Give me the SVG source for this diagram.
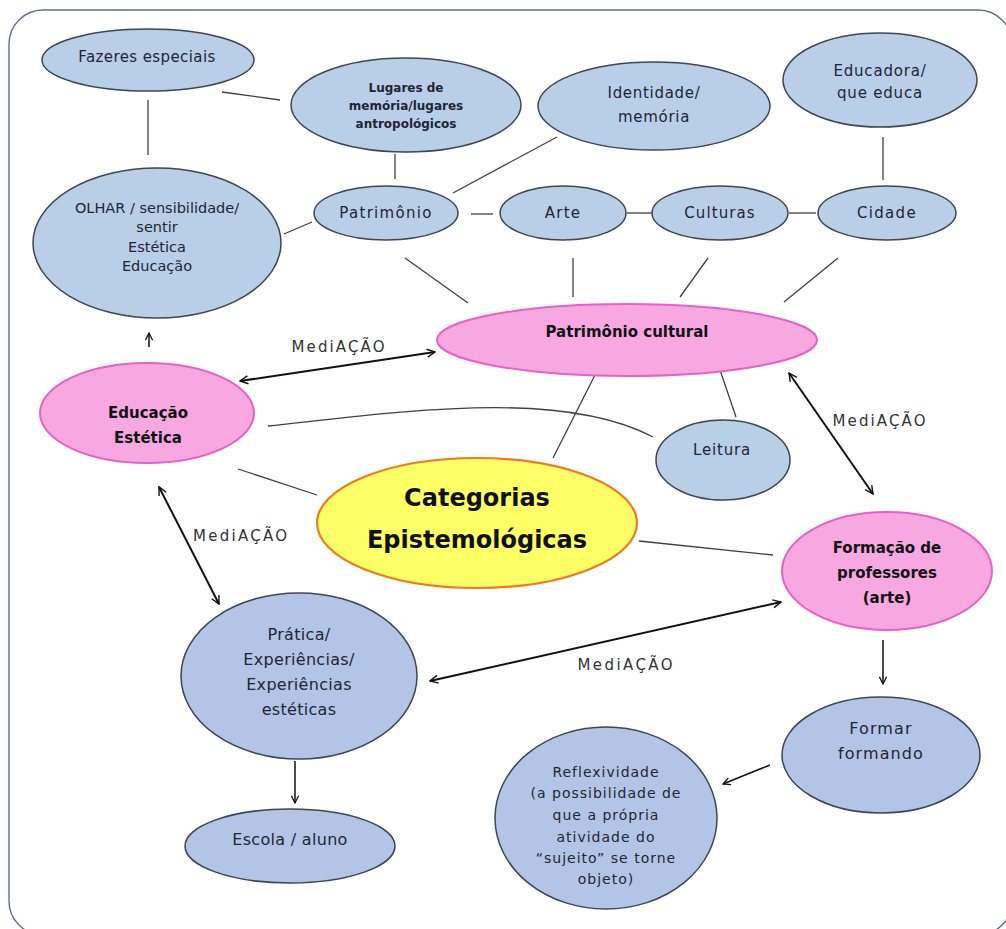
<svg xmlns="http://www.w3.org/2000/svg" width="1006" height="929" viewBox="0 0 1006 929">
<style>
.bg{fill:#ffffff}
.frame{fill:none;stroke:#5b7090;stroke-width:1.4}
.blue{fill:#b9cfe8;stroke:#3c4654;stroke-width:1.5}
.blue2{fill:#b3c5e6;stroke:#3c4654;stroke-width:1.5}
.pink{fill:#f8a8e0;stroke:#e462c4;stroke-width:2}
.yellow{fill:#ffff66;stroke:#f07a1e;stroke-width:2.2}
text{font-family:"DejaVu Sans","Liberation Sans",sans-serif;fill:#1e2533;text-anchor:middle}
.b{font-weight:bold;fill:#111}
.lab{fill:#333;font-size:15px}
.ln{fill:none;stroke:#404040;stroke-width:1.3}
.ar{fill:none;stroke:#111;stroke-width:2}
.ar1{fill:none;stroke:#111;stroke-width:1.5}
</style>
<defs>
<marker id="ah" viewBox="0 0 10 10" refX="9" refY="5" markerWidth="5" markerHeight="5" orient="auto-start-reverse" markerUnits="strokeWidth">
<path d="M1,1 L9,5 L1,9" fill="none" stroke="#111" stroke-width="1.4"/>
</marker>
<marker id="ah1" viewBox="0 0 10 10" refX="9" refY="5" markerWidth="6" markerHeight="6" orient="auto-start-reverse" markerUnits="strokeWidth">
<path d="M1,1 L9,5 L1,9" fill="none" stroke="#111" stroke-width="1.4"/>
</marker>
</defs>
<rect class="bg" x="0" y="0" width="1006" height="929"/>
<rect class="frame" x="9" y="10" width="1003" height="925" rx="34"/>

<g id="connectors">
<line class="ln" x1="148" y1="100" x2="148" y2="155"/>
<line class="ln" x1="222" y1="92" x2="280" y2="100"/>
<line class="ln" x1="395" y1="154" x2="395" y2="179"/>
<line class="ln" x1="557" y1="137" x2="453" y2="193"/>
<line class="ln" x1="471" y1="214" x2="493" y2="214"/>
<line class="ln" x1="627" y1="213" x2="652" y2="213"/>
<line class="ln" x1="789" y1="213" x2="816" y2="213"/>
<line class="ln" x1="883" y1="137" x2="883" y2="180"/>
<line class="ln" x1="284" y1="234" x2="312" y2="222"/>
<line class="ln" x1="405" y1="258" x2="468" y2="303"/>
<line class="ln" x1="573" y1="258" x2="573" y2="297"/>
<line class="ln" x1="708" y1="258" x2="680" y2="297"/>
<line class="ln" x1="838" y1="258" x2="784" y2="302"/>
<path class="ln" d="M268,426 C400,412 560,388 653,437"/>
<line class="ln" x1="597" y1="371" x2="553" y2="458"/>
<line class="ln" x1="720" y1="370" x2="736" y2="417"/>
<line class="ln" x1="238" y1="469" x2="317" y2="495"/>
<line class="ln" x1="639" y1="541" x2="773" y2="555"/>
<line class="ar1" x1="149" y1="347" x2="149" y2="333" marker-end="url(#ah1)"/>
<line class="ar" x1="240" y1="381" x2="435" y2="352" marker-start="url(#ah)" marker-end="url(#ah)"/>
<line class="ar" x1="789" y1="373" x2="873" y2="494" marker-start="url(#ah)" marker-end="url(#ah)"/>
<line class="ar" x1="159" y1="487" x2="219" y2="604" marker-start="url(#ah)" marker-end="url(#ah)"/>
<line class="ar" x1="430" y1="681" x2="781" y2="602" marker-start="url(#ah)" marker-end="url(#ah)"/>
<line class="ar1" x1="883" y1="640" x2="883" y2="684" marker-end="url(#ah1)"/>
<line class="ar1" x1="770" y1="765" x2="723" y2="784" marker-end="url(#ah1)"/>
<line class="ar1" x1="295" y1="761" x2="295" y2="803" marker-end="url(#ah1)"/>
<text class="lab" x="338" y="352" textLength="93" lengthAdjust="spacing">MediAÇÃO</text>
<text class="lab" x="879" y="426" textLength="93" lengthAdjust="spacing">MediAÇÃO</text>
<text class="lab" x="240" y="541" textLength="94" lengthAdjust="spacing">MediAÇÃO</text>
<text class="lab" x="625" y="670" textLength="95" lengthAdjust="spacing">MediAÇÃO</text>
</g>

<g id="fazeres">
<ellipse class="blue" cx="148" cy="60" rx="106" ry="31"/>
<text x="147" y="62" font-size="15" letter-spacing="0.4">Fazeres especiais</text>
</g>
<g id="lugares">
<ellipse class="blue" cx="406" cy="105" rx="115" ry="47"/>
<text font-size="12" font-weight="bold" fill="#222"><tspan x="406" y="92">Lugares de</tspan><tspan x="406" y="110">memória/lugares</tspan><tspan x="406" y="128">antropológicos</tspan></text>
</g>
<g id="identidade">
<ellipse class="blue" cx="654" cy="106" rx="116" ry="44"/>
<text font-size="15" letter-spacing="0.7"><tspan x="654" y="98">Identidade/</tspan><tspan x="654" y="122">memória</tspan></text>
</g>
<g id="educadora">
<ellipse class="blue" cx="880" cy="80" rx="97" ry="47"/>
<text font-size="15" letter-spacing="0.8"><tspan x="880" y="76">Educadora/</tspan><tspan x="880" y="98">que educa</tspan></text>
</g>
<g id="olhar">
<ellipse class="blue" cx="157" cy="243" rx="124" ry="75"/>
<text font-size="14.5"><tspan x="157" y="213">OLHAR / sensibilidade/</tspan><tspan x="157" y="232">sentir</tspan><tspan x="157" y="252">Estética</tspan><tspan x="157" y="271">Educação</tspan></text>
</g>
<g id="patrimonio">
<ellipse class="blue" cx="386" cy="213" rx="72" ry="27"/>
<text x="386" y="218" font-size="15" letter-spacing="1.3">Patrimônio</text>
</g>
<g id="arte">
<ellipse class="blue" cx="563" cy="213" rx="63" ry="27"/>
<text x="563" y="218" font-size="15" letter-spacing="1.3">Arte</text>
</g>
<g id="culturas">
<ellipse class="blue" cx="720" cy="213" rx="68" ry="27"/>
<text x="720" y="218" font-size="15" letter-spacing="1.1">Culturas</text>
</g>
<g id="cidade">
<ellipse class="blue" cx="887" cy="213" rx="69" ry="27"/>
<text x="887" y="218" font-size="15" letter-spacing="1.3">Cidade</text>
</g>
<g id="patrimonio-cultural">
<ellipse class="pink" cx="627" cy="340" rx="190" ry="36"/>
<text class="b" x="627" y="337" font-size="15">Patrimônio cultural</text>
</g>
<g id="educacao-estetica">
<ellipse class="pink" cx="147" cy="413" rx="107" ry="50"/>
<text class="b" font-size="15"><tspan x="148" y="418">Educação</tspan><tspan x="148" y="443">Estética</tspan></text>
</g>
<g id="leitura">
<ellipse class="blue" cx="723" cy="460" rx="67" ry="40"/>
<text x="722" y="455" font-size="15" letter-spacing="0.8">Leitura</text>
</g>
<g id="categorias">
<ellipse class="yellow" cx="477" cy="523" rx="160" ry="65"/>
<text class="b" font-family="Liberation Sans, Arial, sans-serif" font-size="24"><tspan x="477" y="506">Categorias</tspan><tspan x="477" y="548">Epistemológicas</tspan></text>
</g>
<g id="formacao">
<ellipse class="pink" cx="887" cy="571" rx="105" ry="59"/>
<text class="b" font-size="15"><tspan x="887" y="553">Formação de</tspan><tspan x="887" y="578">professores</tspan><tspan x="887" y="603">(arte)</tspan></text>
</g>
<g id="pratica">
<ellipse class="blue2" cx="299" cy="676" rx="118" ry="83"/>
<text font-size="16" letter-spacing="0.3"><tspan x="299" y="640">Prática/</tspan><tspan x="299" y="665">Experiências/</tspan><tspan x="299" y="690">Experiências</tspan><tspan x="299" y="715">estéticas</tspan></text>
</g>
<g id="formar">
<ellipse class="blue2" cx="881" cy="755" rx="99" ry="58"/>
<text font-size="16" letter-spacing="1.1"><tspan x="881" y="734">Formar</tspan><tspan x="881" y="759">formando</tspan></text>
</g>
<g id="reflexividade">
<ellipse class="blue2" cx="606" cy="818" rx="111" ry="91"/>
<text font-size="14" letter-spacing="1"><tspan x="606" y="777">Reflexividade</tspan><tspan x="606" y="798">(a possibilidade de</tspan><tspan x="606" y="820">que a própria</tspan><tspan x="606" y="842">atividade do</tspan><tspan x="606" y="863">“sujeito” se torne</tspan><tspan x="606" y="884">objeto)</tspan></text>
</g>
<g id="escola">
<ellipse class="blue2" cx="290" cy="846" rx="105" ry="37"/>
<text x="290" y="845" font-size="16" letter-spacing="0.3">Escola / aluno</text>
</g>
</svg>
